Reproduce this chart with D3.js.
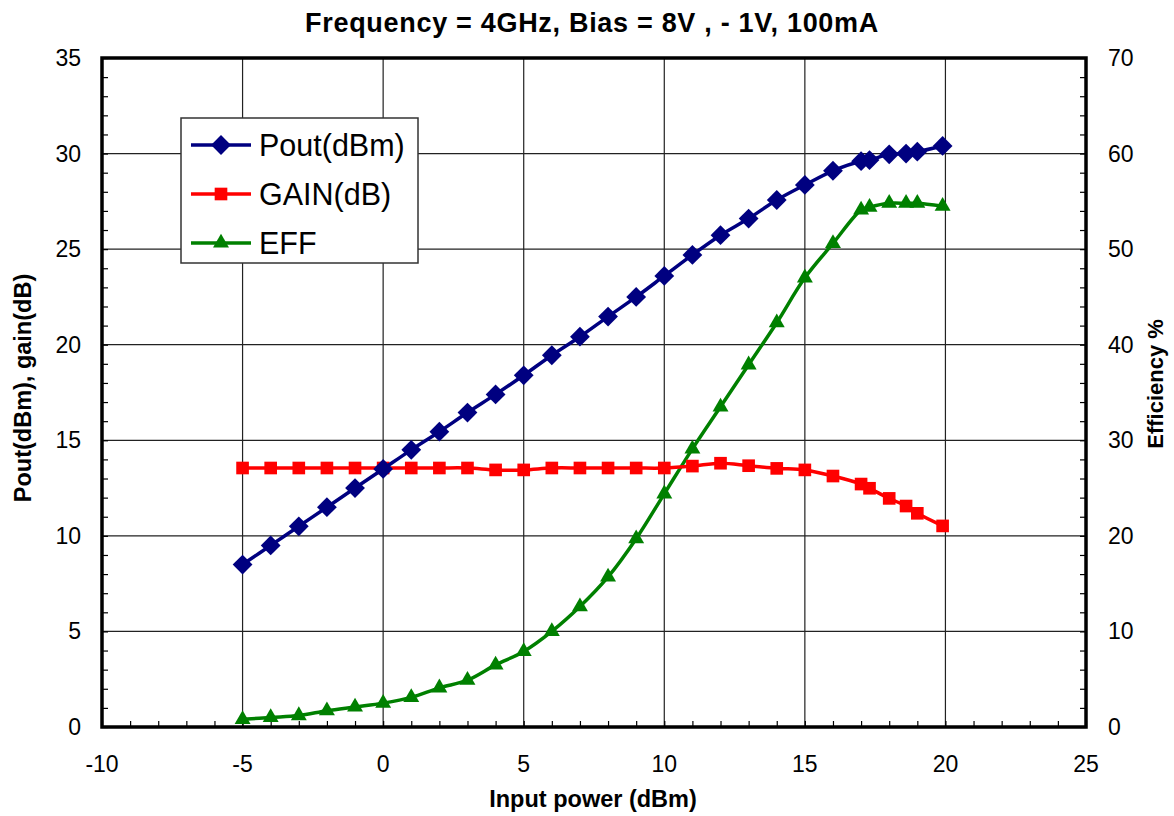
<!DOCTYPE html>
<html>
<head>
<meta charset="utf-8">
<script src="https://cdn.jsdelivr.net/npm/d3@7"></script>
<style>
  body { margin: 0; background: #fff; }
  text { font-family: "Liberation Sans", Arial, sans-serif; }
</style>
</head>
<body>
<div id="graph"></div>
<script>
// input power (dBm)
var inputPower = [-5, -4, -3, -2, -1, 0, 1, 2, 3, 4, 5, 6, 7, 8, 9, 10, 11, 12, 13, 14, 15, 16, 17, 17.3, 18, 18.6, 19, 19.9];
var pout = [8.5, 9.5, 10.5, 11.5, 12.5, 13.5, 14.5, 15.45, 16.45, 17.4, 18.4, 19.45, 20.42, 21.47, 22.5, 23.6, 24.7, 25.73, 26.6, 27.57, 28.36, 29.1, 29.6, 29.66, 29.96, 30.0, 30.1, 30.4];
var gain = [13.55, 13.55, 13.55, 13.55, 13.55, 13.55, 13.55, 13.55, 13.55, 13.45, 13.45, 13.55, 13.55, 13.55, 13.55, 13.55, 13.65, 13.8, 13.67, 13.53, 13.45, 13.13, 12.71, 12.49, 11.96, 11.56, 11.18, 10.52];
var eff = [0.8, 1.0, 1.2, 1.7, 2.1, 2.5, 3.1, 4.1, 4.9, 6.5, 7.9, 10.0, 12.6, 15.7, 19.7, 24.4, 29.1, 33.5, 37.9, 42.3, 47.0, 50.6, 54.1, 54.4, 54.8, 54.8, 54.8, 54.5];

var xTicks = [-10, -5, 0, 5, 10, 15, 20, 25];
var yLeftTicks = [0, 5, 10, 15, 20, 25, 30, 35];
var yRightTicks = [0, 10, 20, 30, 40, 50, 60, 70];

var seriesNames = ["Pout(dBm)", "GAIN(dB)", "EFF"];
var seriesColors = ["#000080", "#ff0000", "#008000"];

var width = 1174;
var height = 816;
var plotLeft = 102, plotRight = 1086, plotTop = 58, plotBottom = 727;

var svg = d3.select('#graph')
    .append('svg')
    .attr('width', width)
    .attr('height', height);

var scaleX = d3.scaleLinear().domain([-10, 25]).range([plotLeft, plotRight]);
var scaleY = d3.scaleLinear().domain([0, 35]).range([plotBottom, plotTop]);
var scaleY2 = d3.scaleLinear().domain([0, 70]).range([plotBottom, plotTop]);

// grid
svg.append("g")
    .selectAll("line")
    .data(xTicks.slice(1, -1))
    .enter()
    .append("line")
    .attr("x1", d => scaleX(d)).attr("x2", d => scaleX(d))
    .attr("y1", plotTop).attr("y2", plotBottom)
    .attr("stroke", "#222").attr("stroke-width", 1.2);

svg.append("g")
    .selectAll("line")
    .data(yLeftTicks.slice(1, -1))
    .enter()
    .append("line")
    .attr("x1", plotLeft).attr("x2", plotRight)
    .attr("y1", d => scaleY(d)).attr("y2", d => scaleY(d))
    .attr("stroke", "#222").attr("stroke-width", 1.2);

// minor ticks, pointing inward
var xAxis = d3.axisTop(scaleX).ticks(35).tickSize(6).tickFormat("");
var yAxis = d3.axisRight(scaleY).ticks(35).tickSize(6).tickFormat("");
var yAxis2 = d3.axisLeft(scaleY2).ticks(35).tickSize(6).tickFormat("");

svg.append("g").attr("transform", "translate(0," + plotBottom + ")").call(xAxis);
svg.append("g").attr("transform", "translate(" + plotLeft + ",0)").call(yAxis);
svg.append("g").attr("transform", "translate(" + plotRight + ",0)").call(yAxis2);
svg.selectAll(".domain").remove();
svg.selectAll(".tick line").attr("stroke", "#000").attr("stroke-width", 1.2);

// frame
svg.append("rect")
    .attr("x", plotLeft).attr("y", plotTop)
    .attr("width", plotRight - plotLeft).attr("height", plotBottom - plotTop)
    .attr("fill", "none").attr("stroke", "#000").attr("stroke-width", 3.5);

// tick labels
svg.append("g")
    .selectAll("text")
    .data(xTicks)
    .enter()
    .append("text")
    .attr("x", d => scaleX(d))
    .attr("y", 772)
    .attr("text-anchor", "middle")
    .attr("font-size", 23)
    .text(d => d);

svg.append("g")
    .selectAll("text")
    .data(yLeftTicks)
    .enter()
    .append("text")
    .attr("x", 81)
    .attr("y", d => scaleY(d) + 8)
    .attr("text-anchor", "end")
    .attr("font-size", 23)
    .text(d => d);

svg.append("g")
    .selectAll("text")
    .data(yRightTicks)
    .enter()
    .append("text")
    .attr("x", 1108)
    .attr("y", d => scaleY2(d) + 8)
    .attr("text-anchor", "start")
    .attr("font-size", 23)
    .text(d => d);

// titles
svg.append("text")
    .attr("x", 592).attr("y", 32)
    .attr("text-anchor", "middle")
    .attr("font-size", 27).attr("font-weight", "bold")
    .attr("letter-spacing", 0.7)
    .text("Frequency = 4GHz, Bias = 8V , - 1V, 100mA");

svg.append("text")
    .attr("x", 593).attr("y", 807)
    .attr("text-anchor", "middle")
    .attr("font-size", 23.5).attr("font-weight", "bold")
    .text("Input power (dBm)");

svg.append("text")
    .attr("transform", "translate(31,388) rotate(-90)")
    .attr("text-anchor", "middle")
    .attr("font-size", 23.5).attr("font-weight", "bold")
    .text("Pout(dBm), gain(dB)");

svg.append("text")
    .attr("transform", "translate(1163,384) rotate(-90)")
    .attr("text-anchor", "middle")
    .attr("font-size", 22).attr("font-weight", "bold")
    .text("Efficiency %");

// series
var curve = d3.curveCatmullRom.alpha(0.5);
var diamond = d3.symbol().type(d3.symbolDiamond2).size(250);
var square = d3.symbol().type(d3.symbolSquare).size(160);
var triangle = d3.symbol().type(d3.symbolTriangle).size(110);

function drawSeries(values, yScale, color, sym) {
    var pts = inputPower.map((x, i) => [scaleX(x), yScale(values[i])]);
    svg.append("path")
        .attr("d", d3.line().curve(curve)(pts))
        .attr("fill", "none")
        .attr("stroke", color)
        .attr("stroke-width", 3.5);
    svg.append("g")
        .selectAll("path")
        .data(pts)
        .enter()
        .append("path")
        .attr("transform", d => "translate(" + d[0] + "," + d[1] + ")")
        .attr("d", sym)
        .attr("fill", color);
}

drawSeries(eff, scaleY2, seriesColors[2], triangle);
drawSeries(gain, scaleY, seriesColors[1], square);
drawSeries(pout, scaleY, seriesColors[0], diamond);

// legend
var legend = svg.append("g");
legend.append("rect")
    .attr("x", 181).attr("y", 118)
    .attr("width", 237).attr("height", 145)
    .attr("fill", "#fff").attr("stroke", "#333").attr("stroke-width", 1.5);

var legendSyms = [diamond, square, triangle];
var legendY = [145, 194, 243];
seriesNames.forEach(function(name, i) {
    legend.append("line")
        .attr("x1", 191).attr("x2", 251)
        .attr("y1", legendY[i]).attr("y2", legendY[i])
        .attr("stroke", seriesColors[i]).attr("stroke-width", 3.5);
    legend.append("path")
        .attr("transform", "translate(221," + legendY[i] + ")")
        .attr("d", legendSyms[i])
        .attr("fill", seriesColors[i]);
    legend.append("text")
        .attr("x", 259).attr("y", legendY[i] + 11)
        .attr("font-size", 30.5)
        .text(name);
});
</script>
</body>
</html>
